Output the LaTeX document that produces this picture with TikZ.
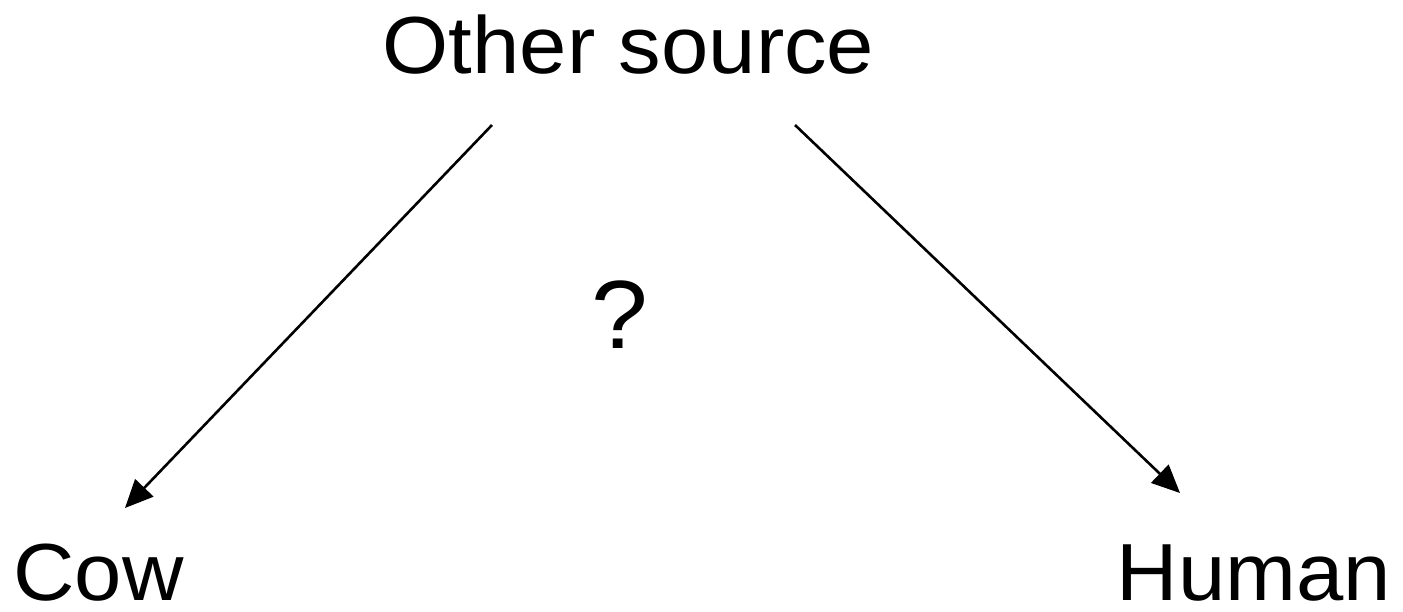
\documentclass[tikz,border=0pt]{standalone}
\usepackage{fontspec}
\setmainfont{Liberation Sans}[FakeStretch=1.05]
\usetikzlibrary{arrows.meta}
\tikzset{
  label text/.style={inner sep=0pt, anchor=base, text depth=0pt, font=\fontsize{81}{96}\selectfont},
  mark text/.style={inner sep=0pt, anchor=base, text depth=0pt, font=\fontsize{97}{112}\selectfont},
  link/.style={line width=2.6pt, -{Triangle[length=28pt,width=25pt]}}
}
\begin{document}
\begin{tikzpicture}[x=1pt,y=-1pt]
  \useasboundingbox (0,0) rectangle (1403,611);
  % labels
  \node[label text] (src) at (628.5,73.5) {Other source};
  \node[label text] (cow) at (98.5,600) {Cow};
  \node[label text] (human) at (1254,600) {Human};
  \node[mark text] (q) at (620,348) {?};
  % arrow end points
  \coordinate (srcL) at (492,125);
  \coordinate (cowT) at (125,508);
  \coordinate (srcR) at (795,125);
  \coordinate (humT) at (1180,493);
  \draw[link] (srcL) -- (cowT);
  \draw[link] (srcR) -- (humT);
\end{tikzpicture}
\end{document}
